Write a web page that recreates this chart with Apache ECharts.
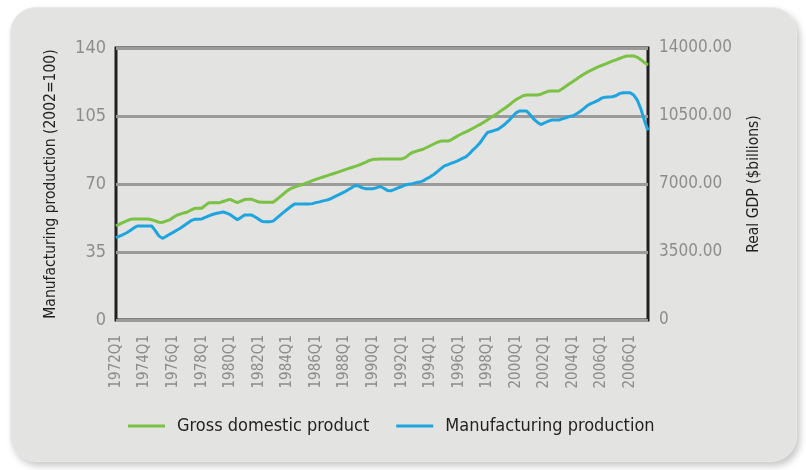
<!DOCTYPE html>
<html>
<head>
<meta charset="utf-8">
<script src="https://cdn.jsdelivr.net/npm/echarts@6/dist/echarts.min.js"></script>
<style>
  html, body { margin: 0; padding: 0; background: #ffffff; }
  #card { position: absolute; left: 10px; top: 7px; width: 787px; height: 455px; border-radius: 26px;
          background: #e3e3e2; box-shadow: 3px 4px 7px rgba(0,0,0,0.22); border: 1px solid #e9e9e8; box-sizing: border-box; }
  #chart { position: absolute; left: 0; top: 0; width: 806px; height: 470px; }
</style>
</head>
<body>
<div id="card"></div>
<div id="chart"></div>
<script>
// First year and number of quarters of the series (1972Q1 .. 2009Q2)
const startYear = 1972;
const quarterCount = 150;

// Tick labels shown every 8 quarters (as printed in the reference)
const tickLabels = ["1972Q1","1974Q1","1976Q1","1978Q1","1980Q1","1982Q1","1984Q1","1986Q1","1988Q1",
  "1990Q1","1992Q1","1994Q1","1996Q1","1998Q1","2000Q1","2002Q1","2004Q1","2006Q1","2006Q1"];

// Real GDP ($ billions), quarterly
const gdp = [4840,4930,5020,5100,5180,5200,5200,5200,5200,5200,
  5160,5100,5030,5020,5090,5150,5280,5390,5450,5510,
  5560,5660,5740,5750,5750,5900,6030,6040,6040,6040,
  6100,6160,6210,6120,6040,6120,6200,6210,6210,6140,
  6070,6060,6060,6060,6060,6200,6350,6500,6660,6770,
  6840,6900,6960,7030,7100,7170,7240,7300,7360,7420,
  7480,7540,7600,7660,7730,7790,7850,7910,7970,8050,
  8130,8210,8270,8280,8290,8290,8290,8290,8290,8290,
  8290,8360,8500,8620,8680,8740,8790,8880,8970,9060,
  9150,9210,9210,9210,9290,9400,9510,9600,9680,9770,
  9870,9970,10070,10180,10300,10420,10540,10660,10790,10910,
  11050,11200,11340,11440,11540,11580,11580,11580,11580,11620,
  11700,11770,11790,11790,11790,11900,12030,12160,12280,12400,
  12530,12650,12760,12850,12940,13030,13100,13170,13250,13320,
  13390,13460,13530,13590,13590,13590,13520,13400,13250,13130];

// Manufacturing production index (2002=100), quarterly
const manufacturing = [42.4,43.2,44.0,44.9,46.1,47.4,48.4,48.4,48.4,48.4,
  48.4,46.0,43.3,42.0,43.0,44.1,45.1,46.2,47.2,48.5,
  49.8,51.1,51.8,51.9,52.0,52.8,53.6,54.3,54.8,55.2,
  55.6,55.0,54.2,52.9,51.6,52.8,54.0,54.0,54.0,53.0,
  51.8,50.7,50.6,50.6,50.9,52.4,54.0,55.5,57.0,58.4,
  59.7,59.7,59.7,59.7,59.7,59.9,60.4,60.8,61.3,61.7,
  62.3,63.2,64.1,65.0,65.9,67.0,68.1,69.2,68.9,68.0,
  67.6,67.6,67.6,68.1,68.7,67.8,66.7,66.5,67.2,68.0,
  68.7,69.5,69.9,70.2,70.6,71.0,71.6,72.7,73.7,74.9,
  76.4,77.9,79.3,80.0,80.7,81.4,82.2,83.2,84.0,85.6,
  87.6,89.3,91.3,94.0,96.5,97.0,97.6,98.2,99.5,100.9,
  102.6,104.6,106.6,107.6,107.6,107.6,105.6,103.4,101.8,100.6,
  101.4,102.3,102.9,102.9,102.9,103.5,104.1,104.7,105.1,106.2,
  107.3,108.8,110.4,111.4,112.1,113.0,114.2,114.7,114.8,114.9,
  115.4,116.5,117.0,117.0,117.0,115.8,113.2,108.7,102.6,97.6];

const categories = [];
for (let i = 0; i < quarterCount; i++) {
  categories.push((startYear + Math.floor(i / 4)) + 'Q' + (i % 4 + 1));
}

const FONT = "'DejaVu Sans Condensed', 'DejaVu Sans', sans-serif";
const GREEN = '#7bc143';
const BLUE = '#1ea5de';

const chart = echarts.init(document.getElementById('chart'), null, { renderer: 'canvas' });
chart.setOption({
  backgroundColor: 'transparent',
  animation: false,
  textStyle: { fontFamily: FONT },
  legend: {
    left: 128, top: 417, padding: 0,
    icon: 'rect', itemWidth: 37, itemHeight: 3, itemGap: 27,
    textStyle: { fontFamily: FONT, fontSize: 18, color: '#231f20', padding: [0, 0, 0, 7] },
    data: ['Gross domestic product', 'Manufacturing production']
  },
  grid: {
    left: 116, right: 158, top: 48, bottom: 150,
    show: true, borderColor: '#231f20', borderWidth: 3, backgroundColor: 'transparent'
  },
  xAxis: {
    type: 'category', data: categories, boundaryGap: false,
    axisLine: { show: false }, axisTick: { show: false },
    axisLabel: {
      interval: 7, rotate: 90, margin: 15,
      fontFamily: FONT, fontSize: 15, color: '#8d8d8d',
      formatter: function (v, i) { return tickLabels[Math.round(i / 8)]; }
    },
    splitLine: { show: false }
  },
  yAxis: [
    {
      type: 'value', min: 0, max: 140, interval: 35, position: 'left',
      name: 'Manufacturing production (2002=100)', nameLocation: 'middle', nameRotate: 90, nameGap: 57,
      nameTextStyle: { fontFamily: FONT, fontSize: 15.5, color: '#231f20' },
      axisLine: { show: false }, axisTick: { show: false },
      axisLabel: { margin: 10, fontFamily: FONT, fontSize: 18, color: '#8d8d8d' },
      splitLine: { show: true, lineStyle: { color: '#9b9b9b', width: 3 } }
    },
    {
      type: 'value', min: 0, max: 14000, interval: 3500, position: 'right',
      name: 'Real GDP ($billions)', nameLocation: 'middle', nameRotate: 90, nameGap: 98,
      nameTextStyle: { fontFamily: FONT, fontSize: 15.5, color: '#231f20' },
      axisLine: { show: false }, axisTick: { show: false },
      axisLabel: { margin: 11, fontFamily: FONT, fontSize: 17, color: '#8d8d8d',
        formatter: function (v) { return v === 0 ? '0' : v.toFixed(2); } },
      splitLine: { show: false }
    }
  ],
  series: [
    {
      name: 'Gross domestic product', type: 'line', yAxisIndex: 1, data: gdp,
      symbol: 'none', lineStyle: { color: GREEN, width: 3 }, itemStyle: { color: GREEN }
    },
    {
      name: 'Manufacturing production', type: 'line', yAxisIndex: 0, data: manufacturing,
      symbol: 'none', lineStyle: { color: BLUE, width: 3 }, itemStyle: { color: BLUE }
    }
  ]
});
</script>
</body>
</html>
